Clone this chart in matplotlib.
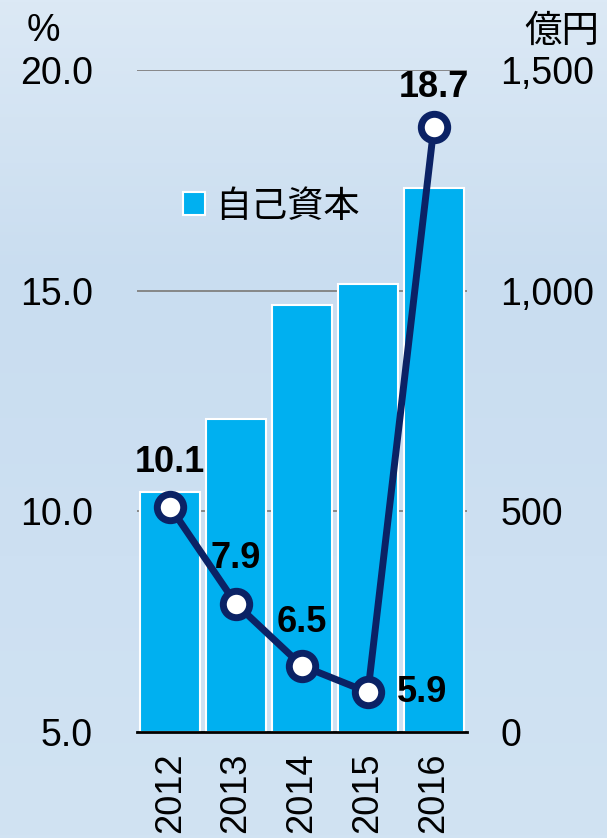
import matplotlib
matplotlib.use("Agg")
from matplotlib import pyplot as plt
from matplotlib.colors import LinearSegmentedColormap
import numpy as np

years = ["2012", "2013", "2014", "2015", "2016"]
equity = [544, 709, 968, 1015, 1233]      # 億円 (right axis)
ratio = [10.1, 7.9, 6.5, 5.9, 18.7]       # % (left axis)
ratio_labels = ["10.1", "7.9", "6.5", "5.9", "18.7"]
left_ticks = [5.0, 10.0, 15.0, 20.0]
right_ticks = [0, 500, 1000, 1500]

plt.rcParams['font.family'] = ['Liberation Sans', 'Noto Sans CJK JP', 'DejaVu Sans']

BAR = "#00b0f0"
NAVY = "#0b2265"

fig = plt.figure(figsize=(6.07, 8.38), dpi=100)

# soft sky background
bg = fig.add_axes([0, 0, 1, 1], zorder=-10)
grad = np.linspace(0, 1, 256).reshape(-1, 1)
sky = LinearSegmentedColormap.from_list("sky", ["#dce9f5", "#c9ddf0", "#cde0f2", "#d1e3f3"])
bg.imshow(grad, aspect="auto", cmap=sky, extent=[0, 1, 0, 1])
bg.axis("off")

ax = fig.add_axes([0.226, 0.1265, 0.543, 0.79])
ax.patch.set_alpha(0)
x = np.arange(len(years))
ax.bar(x, equity, width=0.91, color=BAR, edgecolor="white", linewidth=1.5,
       zorder=2, label="自己資本")
ax.set_xlim(-0.5, 4.5)
ax.set_ylim(0, 1500)
ax.grid(axis="y", color="#808080", linewidth=1.3)
ax.set_axisbelow(True)
ax.set_xticks(x)
ax.set_xticklabels(years, rotation=90, fontsize=26)
ax.tick_params(axis="x", length=0, pad=15)
for s in ["top", "left", "right"]:
    ax.spines[s].set_visible(False)
ax.spines["bottom"].set_linewidth(2)
ax.spines["bottom"].set_zorder(5)

ax2 = ax.twinx()
ax2.set_ylim(5, 20)
ax2.set_yticks(left_ticks)
ax2.set_yticklabels(["%.1f" % t for t in left_ticks])
ax2.yaxis.tick_left()
ax2.tick_params(axis="y", length=0, pad=32, labelsize=27)
for s in ax2.spines.values():
    s.set_visible(False)

# bar axis ticks on the right (after twinx, which resets them)
ax.yaxis.tick_right()
ax.set_yticks(right_ticks)
ax.set_yticklabels(["0", "500", "1,000", "1,500"])
ax.tick_params(axis="y", length=0, pad=24, labelsize=27)

ax2.plot(x, ratio, color=NAVY, linewidth=5, marker="o", markersize=19,
         markerfacecolor="white", markeredgecolor=NAVY, markeredgewidth=5,
         zorder=4)

offsets = [(0, 32), (0, 33), (0, 31), (39, 0), (0, 29)]
for xi, yi, lab, off in zip(x, ratio, ratio_labels, offsets):
    ax2.annotate(lab, (xi, yi), xytext=off, textcoords="offset points",
                 ha="center", va="center", fontsize=26, fontweight="bold",
                 color="black")

ax.legend(loc="upper left", bbox_to_anchor=(0.04, 0.87), frameon=False,
          prop={"family": ["Noto Sans CJK JP"], "size": 26},
          handlelength=0.6, handleheight=0.6, handletextpad=0.3)

fig.text(0.072, 0.963, "%", fontsize=27, ha="center", va="center")
fig.text(0.988, 0.963, "億円", fontsize=27, ha="right", va="center",
         family=["Noto Sans CJK JP"])

fig.savefig("out.png", dpi=100)
